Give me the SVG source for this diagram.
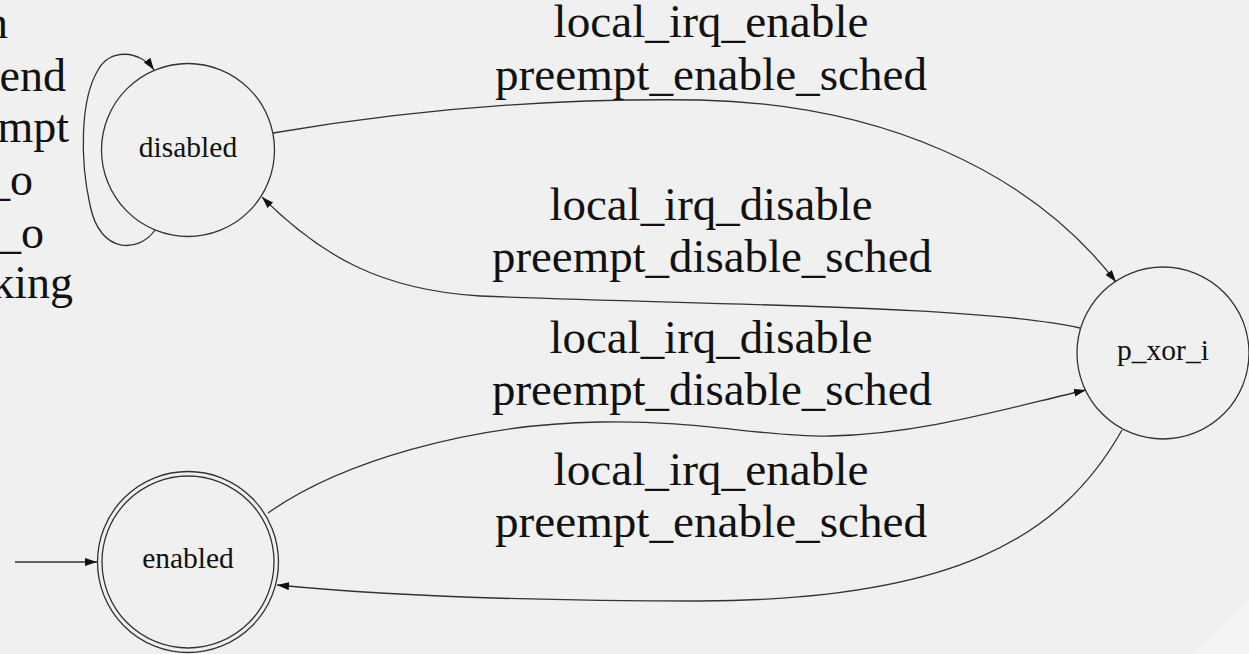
<svg xmlns="http://www.w3.org/2000/svg" width="1249" height="654" viewBox="0 0 1249 654">
  <style>
    .bg { fill: #f0f0f0; }
    .state { fill: none; stroke: #333; stroke-width: 1.3; }
    .edge { fill: none; stroke: #333; stroke-width: 1.3; }
    text { font-family: 'Liberation Serif', 'Times New Roman', Times, serif; fill: #111; }
    .node-label { font-size: 29.5px; text-anchor: middle; }
    .edge-label { font-size: 46px; text-anchor: middle; }
    .loop-label { font-size: 46px; text-anchor: end; }
  </style>
  <defs>
    <marker id="arrow" viewBox="0 0 12 8" refX="12" refY="4" markerWidth="12" markerHeight="8" markerUnits="userSpaceOnUse" orient="auto">
      <path d="M0,0 L12,4 L0,8 Z" fill="#111"/>
    </marker>
  </defs>

  <rect class="bg" x="0" y="0" width="1249" height="654"/>
  <polygon points="1195,654 1249,600 1249,654" fill="#f4f4f4"/>

  <!-- transitions -->
  <g id="edges">
    <!-- initial -->
    <path class="edge" d="M15,562 L97,562" marker-end="url(#arrow)"/>
    <!-- disabled self loop -->
    <path class="edge" d="M155,230 C140,252 100,256 90,205 C80,160 80,100 98,70 C110,48 140,50 154,70" marker-end="url(#arrow)"/>
    <!-- disabled -> p_xor_i -->
    <path class="edge" d="M273,133 C420,108 560,98 700,100 C880,104 1030,170 1116,282" marker-end="url(#arrow)"/>
    <!-- p_xor_i -> disabled -->
    <path class="edge" d="M1080,328 C980,305 700,305 480,296 C380,290 320,255 262,197" marker-end="url(#arrow)"/>
    <!-- enabled -> p_xor_i -->
    <path class="edge" d="M268,513 C340,462 470,424 600,422 C700,420 760,437 830,436 C920,434 1000,410 1086,390" marker-end="url(#arrow)"/>
    <!-- p_xor_i -> enabled -->
    <path class="edge" d="M1122,430 C1060,540 950,600 700,601 C550,601 400,597 277,585" marker-end="url(#arrow)"/>

    <!-- self loop label (extends past the left edge) -->
    <text class="loop-label" x="8" y="38">n</text>
    <text class="loop-label" x="66" y="91">end</text>
    <text class="loop-label" x="69" y="142">mpt</text>
    <text class="loop-label" x="33" y="195">_o</text>
    <text class="loop-label" x="44" y="248">_o</text>
    <text class="loop-label" x="73" y="298">king</text>

    <text class="edge-label" x="711" y="37" textLength="315" lengthAdjust="spacingAndGlyphs">local_irq_enable</text>
    <text class="edge-label" x="711" y="90" textLength="432" lengthAdjust="spacingAndGlyphs">preempt_enable_sched</text>
    <text class="edge-label" x="711" y="220" textLength="323" lengthAdjust="spacingAndGlyphs">local_irq_disable</text>
    <text class="edge-label" x="712" y="272" textLength="440" lengthAdjust="spacingAndGlyphs">preempt_disable_sched</text>
    <text class="edge-label" x="711" y="353" textLength="323" lengthAdjust="spacingAndGlyphs">local_irq_disable</text>
    <text class="edge-label" x="712" y="405" textLength="440" lengthAdjust="spacingAndGlyphs">preempt_disable_sched</text>
    <text class="edge-label" x="711" y="485" textLength="315" lengthAdjust="spacingAndGlyphs">local_irq_enable</text>
    <text class="edge-label" x="711" y="537" textLength="432" lengthAdjust="spacingAndGlyphs">preempt_enable_sched</text>
  </g>

  <!-- states -->
  <g id="disabled">
    <circle class="state" cx="188" cy="150" r="86.5"/>
    <text class="node-label" x="188" y="157">disabled</text>
  </g>
  <g id="enabled">
    <circle class="state" cx="188" cy="562" r="86"/>
    <circle class="state" cx="188" cy="562" r="90.5"/>
    <text class="node-label" x="188" y="568">enabled</text>
  </g>
  <g id="p_xor_i">
    <circle class="state" cx="1163" cy="353" r="86"/>
    <text class="node-label" x="1163" y="360">p_xor_i</text>
  </g>
</svg>
